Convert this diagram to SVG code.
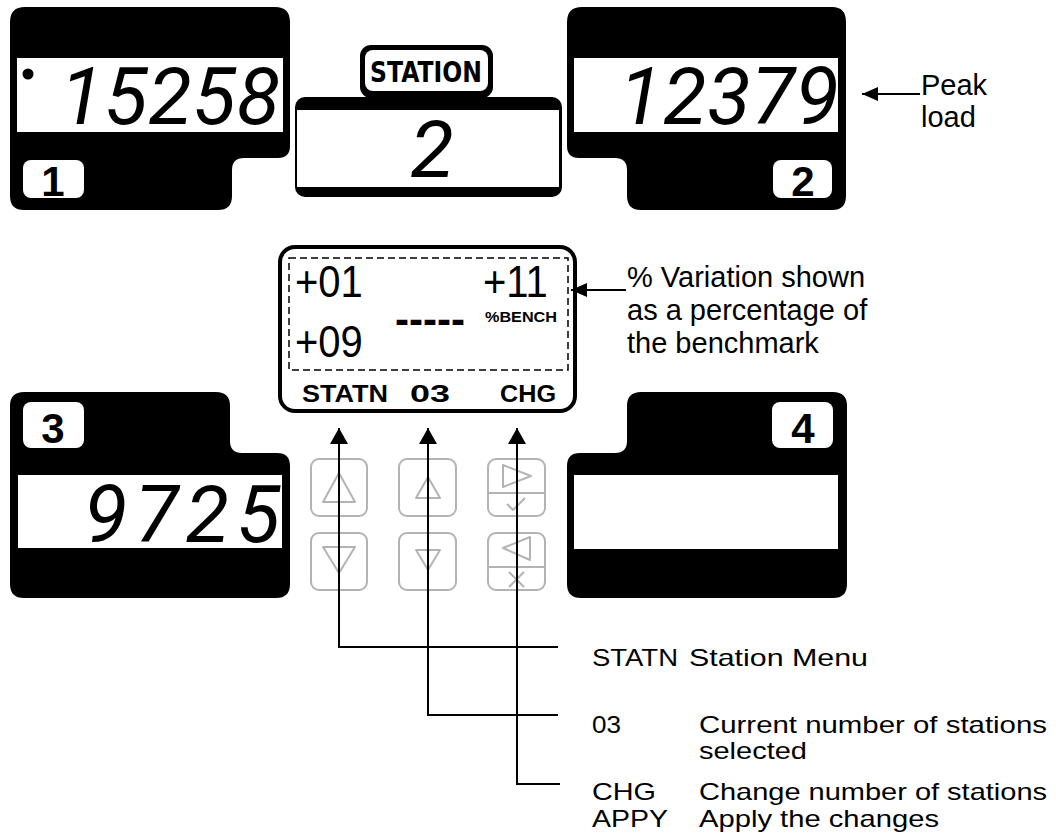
<svg xmlns="http://www.w3.org/2000/svg" width="1056" height="836" viewBox="0 0 1056 836">
<style>
.panel{fill:#000}
.win{fill:#fff}
.seg{font-family:Roboto,"Liberation Sans",sans-serif;font-style:italic;font-weight:400;font-size:80px;fill:#000}
.tag{fill:#fff}
.tagt{font-family:"Liberation Sans",Arial,sans-serif;font-weight:bold;font-size:42px;fill:#000;text-anchor:middle}
.lcdt{font-family:"Liberation Sans",Arial,sans-serif;font-size:40px;fill:#000}
.soft{font-family:"Liberation Sans",Arial,sans-serif;font-weight:bold;font-size:23px;fill:#000}
.note{font-family:"Liberation Sans",Arial,sans-serif;font-size:29px;fill:#000}
.leg{font-family:"Liberation Sans",Arial,sans-serif;font-size:24px;fill:#000}
.btn{fill:#fff;stroke:#b3b3b3;stroke-width:2}
.ico{fill:none;stroke:#b3b3b3;stroke-width:2;stroke-linejoin:round}
.conn{fill:none;stroke:#000;stroke-width:2}
</style>
<defs>
<marker id="arr" viewBox="0 0 16 18" refX="16" refY="9" markerWidth="16" markerHeight="18" markerUnits="userSpaceOnUse" orient="auto">
<path d="M0,0 L16,9 L0,18 Z" fill="#000"/>
</marker>
<marker id="arrS" viewBox="0 0 16 14" refX="16" refY="7" markerWidth="16" markerHeight="14" markerUnits="userSpaceOnUse" orient="auto">
<path d="M0,0 L16,7 L0,14 Z" fill="#000"/>
</marker>
</defs>
<rect width="1056" height="836" fill="#fff"/>

<g id="panel1">
<path class="panel" d="M25,7 H275 Q290,7 290,22 V146 Q290,158 278,158 H244 Q232,158 232,170 V196 Q232,210 218,210 H24 Q10,210 10,196 V22 Q10,7 25,7 Z"/>
<rect class="win" x="17" y="58" width="266" height="74"/>
<circle cx="28" cy="74" r="5.5" fill="#000"/>
<text class="seg" x="60" y="124" textLength="220" lengthAdjust="spacing">15258</text>
<rect class="tag" x="23" y="160" width="61" height="38" rx="8"/>
<text class="tagt" x="53" y="196">1</text>
</g>

<g id="panel2">
<path class="panel" d="M582,7 H832 Q846,7 846,22 V196 Q846,210 832,210 H641 Q627,210 627,196 V170 Q627,158 615,158 H579 Q567,158 567,146 V22 Q567,7 582,7 Z"/>
<rect class="win" x="574" y="58" width="264" height="74"/>
<text class="seg" x="619" y="124" textLength="220" lengthAdjust="spacing">12379</text>
<rect class="tag" x="773" y="160" width="59" height="38" rx="8"/>
<text class="tagt" x="803" y="196">2</text>
</g>

<g id="station">
<rect x="360" y="45" width="133" height="53" rx="11" fill="#000"/>
<rect x="365" y="50" width="123" height="41" rx="8" fill="#fff"/>
<text x="426" y="82" text-anchor="middle" font-family="'DejaVu Sans',sans-serif" font-weight="bold" font-size="29" textLength="112" lengthAdjust="spacingAndGlyphs">STATION</text>
<rect x="295" y="97" width="267" height="100" rx="10" fill="#000"/>
<rect class="win" x="297" y="110" width="262" height="77"/>
<text class="seg" x="432" y="177" text-anchor="middle" font-size="86">2</text>
</g>

<g id="panel3">
<path class="panel" d="M24,392 H216 Q230,392 230,406 V441 Q230,453 242,453 H277 Q290,453 290,466 V584 Q290,598 276,598 H24 Q10,598 10,584 V406 Q10,392 24,392 Z"/>
<rect class="win" x="18" y="475" width="264" height="73"/>
<text class="seg" x="84" y="542" textLength="196" lengthAdjust="spacing">9725</text>
<rect class="tag" x="23" y="402" width="61" height="46" rx="8"/>
<text class="tagt" x="53" y="443">3</text>
</g>

<g id="panel4">
<path class="panel" d="M641,392 H833 Q847,392 847,406 V584 Q847,598 833,598 H581 Q567,598 567,584 V466 Q567,453 580,453 H615 Q627,453 627,441 V406 Q627,392 641,392 Z"/>
<rect class="win" x="574" y="475" width="264" height="74"/>
<rect class="tag" x="772" y="402" width="61" height="46" rx="8"/>
<text class="tagt" x="803" y="443">4</text>
</g>

<g id="lcd">
<rect x="280" y="247" width="295" height="164" rx="15" fill="#fff" stroke="#000" stroke-width="4"/>
<rect x="289" y="258" width="279" height="112" fill="none" stroke="#000" stroke-width="1.5" stroke-dasharray="7 4"/>
<text class="lcdt" transform="translate(295,297) scale(1,1.12)">+01</text>
<text class="lcdt" transform="translate(483,297) scale(1,1.12)">+11</text>
<text class="lcdt" transform="translate(295,357) scale(1,1.12)">+09</text>
<text x="395" y="334" font-family="'Liberation Sans',Arial,sans-serif" font-weight="bold" font-size="44" textLength="70" lengthAdjust="spacingAndGlyphs">-----</text>
<text x="485" y="322" font-family="'Liberation Sans',Arial,sans-serif" font-weight="bold" font-size="15" textLength="72" lengthAdjust="spacingAndGlyphs">%BENCH</text>
<text class="soft" x="302" y="402" textLength="86" lengthAdjust="spacingAndGlyphs">STATN</text>
<text class="soft" x="410" y="402" textLength="40" lengthAdjust="spacingAndGlyphs">03</text>
<text class="soft" x="500" y="402" textLength="56" lengthAdjust="spacingAndGlyphs">CHG</text>
</g>

<g id="btn-statn-up">
<rect class="btn" x="311" y="459" width="56" height="57" rx="8"/>
<path class="ico" d="M323,502 H355 L339,473 Z"/>
</g>
<g id="btn-statn-down">
<rect class="btn" x="311" y="533" width="56" height="57" rx="8"/>
<path class="ico" d="M323,547 H355 L339,573 Z"/>
</g>
<g id="btn-num-up">
<rect class="btn" x="399" y="459" width="57" height="57" rx="8"/>
<path class="ico" d="M416,498 H440 L428,477 Z"/>
</g>
<g id="btn-num-down">
<rect class="btn" x="399" y="533" width="57" height="57" rx="8"/>
<path class="ico" d="M416,550 H440 L428,570 Z"/>
</g>
<g id="btn-chg-ok">
<rect class="btn" x="488" y="459" width="57" height="57" rx="8"/>
<path class="ico" d="M488,493 H545"/>
<path class="ico" d="M503,465 L531,476 L503,487 Z"/>
<path class="ico" d="M507,504 L513,510 L525,498"/>
</g>
<g id="btn-chg-cancel">
<rect class="btn" x="488" y="533" width="57" height="57" rx="8"/>
<path class="ico" d="M488,567 H545"/>
<path class="ico" d="M530,537 L503,548 L530,560 Z"/>
<path class="ico" d="M509,572 L524,587 M524,572 L509,587"/>
</g>

<g id="connectors">
<path class="conn" d="M558,647 H339 V428" marker-end="url(#arr)"/>
<path class="conn" d="M558,715 H428 V428" marker-end="url(#arr)"/>
<path class="conn" d="M560,784 H517 V428" marker-end="url(#arr)"/>
<path class="conn" d="M920,94 H862" marker-end="url(#arrS)"/>
<path class="conn" d="M626,290 H571" marker-end="url(#arrS)"/>
</g>

<g id="notes">
<text class="note" x="921" y="95">Peak</text>
<text class="note" x="921" y="127">load</text>
<text class="note" x="627" y="287">% Variation shown</text>
<text class="note" x="627" y="320">as a percentage of</text>
<text class="note" x="627" y="353">the benchmark</text>
<text class="leg" x="592" y="666" textLength="86" lengthAdjust="spacingAndGlyphs">STATN</text>
<text class="leg" x="689" y="666" textLength="179" lengthAdjust="spacingAndGlyphs">Station Menu</text>
<text class="leg" x="592" y="733" textLength="29" lengthAdjust="spacingAndGlyphs">03</text>
<text class="leg" x="699" y="733" textLength="348" lengthAdjust="spacingAndGlyphs">Current number of stations</text>
<text class="leg" x="699" y="759" textLength="108" lengthAdjust="spacingAndGlyphs">selected</text>
<text class="leg" x="592" y="800" textLength="64" lengthAdjust="spacingAndGlyphs">CHG</text>
<text class="leg" x="699" y="800" textLength="348" lengthAdjust="spacingAndGlyphs">Change number of stations</text>
<text class="leg" x="592" y="827" textLength="76" lengthAdjust="spacingAndGlyphs">APPY</text>
<text class="leg" x="699" y="827" textLength="240" lengthAdjust="spacingAndGlyphs">Apply the changes</text>
</g>
</svg>
